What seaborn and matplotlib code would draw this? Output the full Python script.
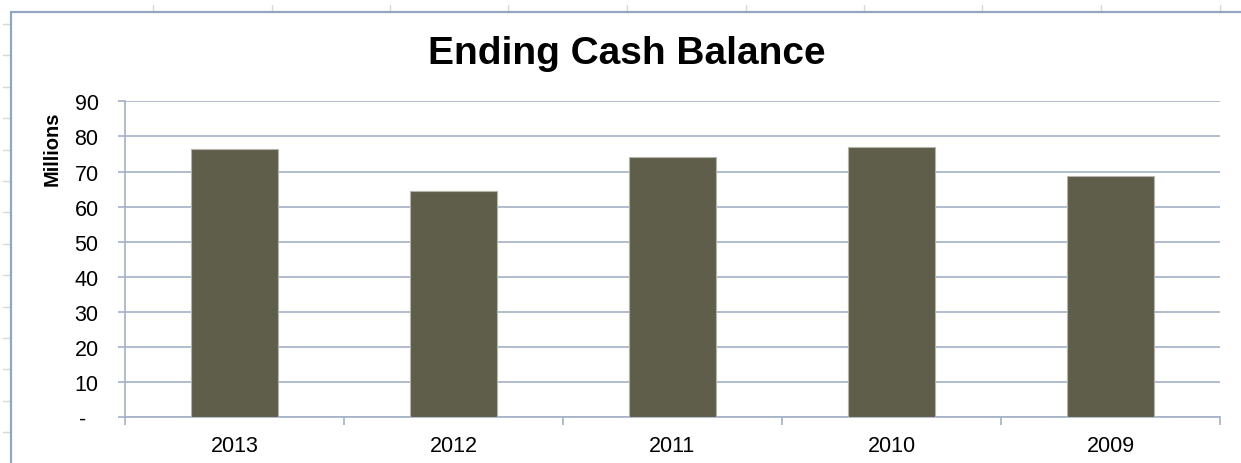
import pandas as pd
import numpy as np

import matplotlib.pyplot as plt
from matplotlib.lines import Line2D
from matplotlib.ticker import FixedLocator
import seaborn as sns

years = ["2013", "2012", "2011", "2010", "2009"]
cash = [76.5, 64.4, 74.2, 77.1, 68.6]
y_ticks = [0, 10, 20, 30, 40, 50, 60, 70, 80, 90]
y_labels = ["-  "] + [str(v) for v in y_ticks[1:]]

dataset = pd.DataFrame({"year": years, "cash": cash})

sns.set_style("white")
plt.rcParams['font.family'] = ['Liberation Sans', 'DejaVu Sans']

grid_col = "#a3b2c7"
border_col = "#93a6c0"
sheet_col = "#d8d8d8"

fig = plt.figure(figsize=(12.41, 4.64), dpi=100)
W, H = 1241, 464

# spreadsheet cell lines peeking around the chart frame
for k in range(10):
    x = (153 + 118.5 * k) / W
    fig.add_artist(Line2D([x, x], [1 - 6 / H, 1 - 13 / H], color=sheet_col, lw=1))
for k in range(14):
    y = 1 - (25 + 31.4 * k) / H
    fig.add_artist(Line2D([3 / W, 11 / W], [y, y], color=sheet_col, lw=1))

# chart frame
fig.add_artist(Line2D([11 / W, 11 / W], [0, 1 - 13 / H], color=border_col, lw=1.6))
fig.add_artist(Line2D([11 / W, 1], [1 - 13 / H, 1 - 13 / H], color=border_col, lw=1.6))

ax = fig.add_axes([125 / W, 1 - 418.3 / H, (1220 - 125) / W, (418.3 - 102.3) / H])

sns.barplot(data=dataset, x="year", y="cash", order=years,
            color="#5f5e4a", saturation=1, width=0.4,
            edgecolor="#b4b4aa", linewidth=0.8, ax=ax, zorder=3)

ax.set_xlim(-0.5, 4.5)
ax.set_ylim(0, 90)
ax.set_yticks(y_ticks)
ax.set_yticklabels(y_labels)
ax.yaxis.grid(True, color=grid_col, linewidth=1.2)
ax.set_axisbelow(True)

ax.xaxis.set_minor_locator(FixedLocator(np.arange(-0.5, 5, 1)))
ax.tick_params(axis="x", which="major", length=0, pad=13, labelsize=15.5, colors="#000000")
ax.tick_params(axis="x", which="minor", length=6, width=1.2, color=grid_col, bottom=True)
ax.tick_params(axis="y", length=5, width=1.2, color=grid_col, pad=14, labelsize=15.5,
               labelcolor="#000000", left=True)

for side in ["top", "right"]:
    ax.spines[side].set_visible(False)
for side in ["left", "bottom"]:
    ax.spines[side].set_color(grid_col)
    ax.spines[side].set_linewidth(1.2)

ax.set_xlabel("")
ax.set_ylabel("")

fig.text(627 / W, 1 - 54 / H, "Ending Cash Balance", ha="center", va="center",
         fontsize=28, fontweight="bold", color="#000000")
fig.text(52 / W, 1 - 149 / H, "Millions", ha="center", va="center", rotation=90,
         fontsize=14.5, fontweight="bold", color="#000000")

plt.savefig("out.png", dpi=100)
